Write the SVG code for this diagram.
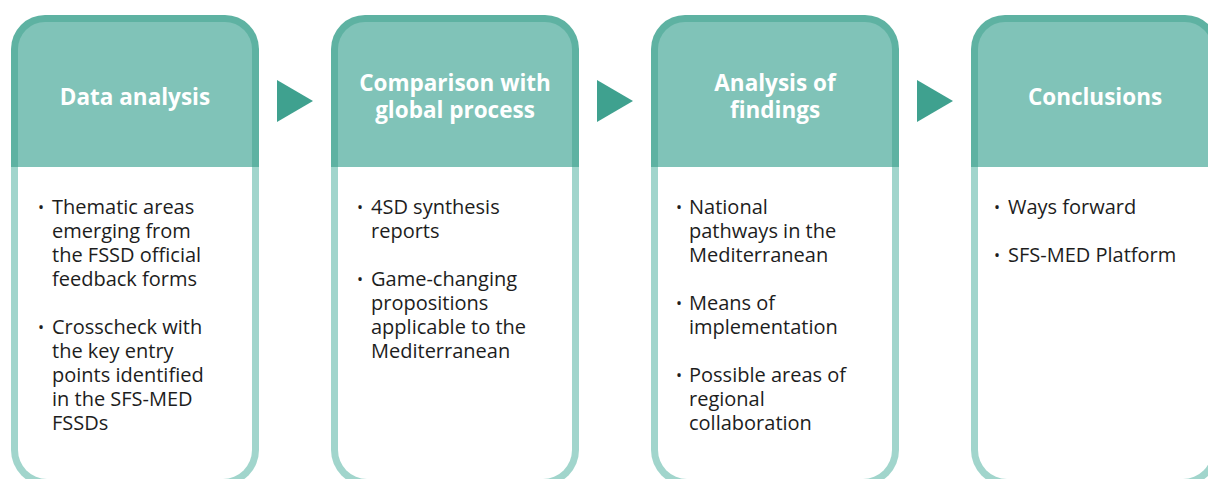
<svg xmlns="http://www.w3.org/2000/svg" width="1208" height="479" viewBox="0 0 1208 479">
<defs>
<style>
.hdo{fill:#5eb2a2}
.hdi{fill:#80c3b8}
.bdo{fill:#a1d5cc}
.bdi{fill:#ffffff}
.ttl{font-family:"Open Sans","Liberation Sans",sans-serif;font-weight:700;font-size:22.5px;fill:#ffffff;text-anchor:middle}
.bd{font-family:"Open Sans","Liberation Sans",sans-serif;font-size:20px;fill:#1d1d1d}
.bl{font-family:"Open Sans","Liberation Sans",sans-serif;font-size:16px;fill:#1d1d1d}
.arr{fill:#3fa18f}
</style>
<g id="cardshape">
<path class="bdo" d="M0 152 H248 V435 A36 36 0 0 1 212 471 H36 A36 36 0 0 1 0 435 Z"/>
<path class="bdi" d="M7 152 H241 V435 A29 29 0 0 1 212 464 H36 A29 29 0 0 1 7 435 Z"/>
<path class="hdo" d="M0 152 V34 A34 34 0 0 1 34 0 H214 A34 34 0 0 1 248 34 V152 Z"/>
<path class="hdi" d="M7 152 V34 A27 27 0 0 1 34 7 H214 A27 27 0 0 1 241 34 V152 Z"/>
</g>
</defs>
<rect width="1208" height="479" fill="#ffffff"/>
<g id="connectors">
<polygon class="arr" points="277,80 313,101 277,122"/>
<polygon class="arr" points="597,80 633,101 597,122"/>
<polygon class="arr" points="917,80 953,101 917,122"/>
</g>
<g id="node1">
<use href="#cardshape" x="11" y="15"/>
<text class="ttl" x="135" y="105">Data analysis</text>
<text class="bl" x="38" y="213">•</text>
<text class="bd"><tspan x="52" y="214">Thematic areas</tspan><tspan x="52" y="238">emerging from</tspan><tspan x="52" y="262">the FSSD official</tspan><tspan x="52" y="286">feedback forms</tspan></text>
<text class="bl" x="38" y="333">•</text>
<text class="bd"><tspan x="52" y="334">Crosscheck with</tspan><tspan x="52" y="358">the key entry</tspan><tspan x="52" y="382">points identified</tspan><tspan x="52" y="406">in the SFS-MED</tspan><tspan x="52" y="430">FSSDs</tspan></text>
</g>
<g id="node2">
<use href="#cardshape" x="331" y="15"/>
<text class="ttl"><tspan x="455" y="91">Comparison with</tspan><tspan x="455" y="118">global process</tspan></text>
<text class="bl" x="357" y="213">•</text>
<text class="bd"><tspan x="371" y="214">4SD synthesis</tspan><tspan x="371" y="238">reports</tspan></text>
<text class="bl" x="357" y="285">•</text>
<text class="bd"><tspan x="371" y="286">Game-changing</tspan><tspan x="371" y="310">propositions</tspan><tspan x="371" y="334">applicable to the</tspan><tspan x="371" y="358">Mediterranean</tspan></text>
</g>
<g id="node3">
<use href="#cardshape" x="651" y="15"/>
<text class="ttl"><tspan x="775" y="91">Analysis of</tspan><tspan x="775" y="118">findings</tspan></text>
<text class="bl" x="676" y="213">•</text>
<text class="bd"><tspan x="689" y="214">National</tspan><tspan x="689" y="238">pathways in the</tspan><tspan x="689" y="262">Mediterranean</tspan></text>
<text class="bl" x="676" y="309">•</text>
<text class="bd"><tspan x="689" y="310">Means of</tspan><tspan x="689" y="334">implementation</tspan></text>
<text class="bl" x="676" y="381">•</text>
<text class="bd"><tspan x="689" y="382">Possible areas of</tspan><tspan x="689" y="406">regional</tspan><tspan x="689" y="430">collaboration</tspan></text>
</g>
<g id="node4">
<use href="#cardshape" x="971" y="15"/>
<text class="ttl" x="1095" y="105">Conclusions</text>
<text class="bl" x="994" y="213">•</text>
<text class="bd"><tspan x="1008" y="214">Ways forward</tspan></text>
<text class="bl" x="994" y="261">•</text>
<text class="bd"><tspan x="1008" y="262">SFS-MED Platform</tspan></text>
</g>
</svg>
